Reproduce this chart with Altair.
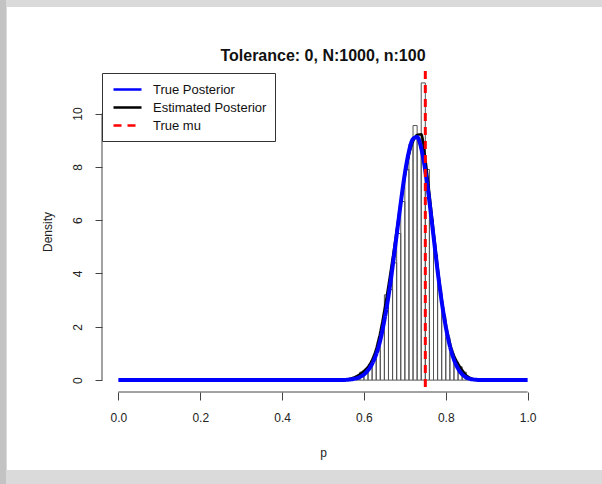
import altair as alt
import pandas as pd

# ---- text ----
title_text = "Tolerance: 0, N:1000, n:100"
x_title = "p"
y_title = "Density"
series_names = ["True Posterior", "Estimated Posterior", "True mu"]
series_colors = ["#0000ff", "#000000", "#ff0000"]

# ---- axis ticks ----
x_ticks = [0.0, 0.2, 0.4, 0.6, 0.8, 1.0]
y_ticks = [0, 2, 4, 6, 8, 10]

# ---- histogram of accepted samples (density scale) ----
hist_left = [0.58, 0.59, 0.60, 0.61, 0.62, 0.63, 0.64, 0.65, 0.66, 0.67,
             0.68, 0.69, 0.70, 0.71, 0.72, 0.73, 0.74, 0.75, 0.76, 0.77,
             0.78, 0.79, 0.80, 0.81, 0.82, 0.83, 0.84, 0.85]
hist_right = [0.59, 0.60, 0.61, 0.62, 0.63, 0.64, 0.65, 0.66, 0.67, 0.68,
              0.69, 0.70, 0.71, 0.72, 0.73, 0.74, 0.75, 0.76, 0.77, 0.78,
              0.79, 0.80, 0.81, 0.82, 0.83, 0.84, 0.85, 0.86]
hist_density = [0.1, 0.3, 0.3, 0.5, 0.8, 1.1, 1.8, 3.2, 3.4, 4.4,
                5.5, 6.7, 7.9, 8.85, 9.55, 9.2, 11.15, 7.9, 6.0, 4.7,
                3.4, 2.4, 1.6, 1.0, 0.65, 0.5, 0.3, 0.1]

# ---- true posterior curve ----
true_p = [0.0, 0.5, 0.55, 0.56, 0.57, 0.58, 0.59, 0.60, 0.61, 0.62, 0.63,
          0.64, 0.65, 0.66, 0.67, 0.68, 0.69, 0.70, 0.71, 0.72, 0.73,
          0.74, 0.75, 0.76, 0.77, 0.78, 0.79, 0.80, 0.81, 0.82, 0.83,
          0.84, 0.85, 0.86, 0.87, 0.88, 0.9, 1.0]
true_density = [0.0, 0.0, 0.006, 0.014, 0.03, 0.06, 0.115, 0.21, 0.37, 0.61, 0.97,
                1.50, 2.25, 3.15, 4.25, 5.45, 6.65, 7.75, 8.58, 9.05, 9.12,
                8.70, 7.85, 6.70, 5.40, 4.10, 2.95, 2.00, 1.28, 0.77, 0.43,
                0.22, 0.10, 0.045, 0.018, 0.006, 0.0, 0.0]

# ---- kernel density estimate of accepted samples ----
est_p = [0.56, 0.57, 0.58, 0.59, 0.60, 0.61, 0.62, 0.63, 0.64, 0.65,
         0.66, 0.67, 0.68, 0.69, 0.70, 0.71, 0.72, 0.73, 0.74, 0.75,
         0.76, 0.77, 0.78, 0.79, 0.80, 0.81, 0.82, 0.83, 0.84, 0.85,
         0.86, 0.87, 0.88]
est_density = [0.03, 0.07, 0.13, 0.22, 0.34, 0.50, 0.76, 1.18, 1.80, 2.62,
               3.55, 4.55, 5.60, 6.65, 7.65, 8.45, 8.95, 9.20, 9.22, 8.30,
               7.00, 5.60, 4.25, 3.05, 2.10, 1.40, 0.92, 0.62, 0.38, 0.18,
               0.08, 0.03, 0.01]

true_mu = 0.75

# ---- frames ----
hist_df = pd.DataFrame({"left": hist_left, "right": hist_right,
                        "density": hist_density, "base": [0.0] * len(hist_left)})
true_df = pd.DataFrame({"p": true_p, "density": true_density,
                        "series": [series_names[0]] * len(true_p)})
est_df = pd.DataFrame({"p": est_p, "density": est_density,
                       "series": [series_names[1]] * len(est_p)})
mu_df = pd.DataFrame({"p": [true_mu], "series": [series_names[2]]})
one_row = pd.DataFrame({"k": [0]})
title_df = pd.DataFrame({"label": [title_text]})

W, H = 442, 321
PAD_L, PAD_T, PAD_R, PAD_B = 102, 71, 58, 92
FONT = "Liberation Sans"

x_scale = alt.Scale(domain=[-0.04, 1.04], nice=False, zero=False)
y_scale = alt.Scale(domain=[-0.446, 11.596], nice=False, zero=False)

x_axis = alt.Axis(values=x_ticks, format=".1f", domain=False, grid=False,
                  tickSize=8, tickColor="#444444", tickWidth=1,
                  labelFont=FONT, labelFontSize=12, labelColor="#222222",
                  labelPadding=12, labelFlush=False,
                  title=x_title, titleFont=FONT, titleFontSize=12,
                  titleFontWeight="normal", titleColor="#222222",
                  titlePadding=24, zindex=1)
y_axis = alt.Axis(values=y_ticks, format="d", domain=False, grid=False,
                  tickSize=7, tickColor="#444444", tickWidth=1,
                  labelFont=FONT, labelFontSize=12, labelColor="#222222",
                  labelAngle=270, labelAlign="center", labelBaseline="bottom",
                  labelPadding=11, labelFlush=False,
                  title=y_title, titleFont=FONT, titleFontSize=12,
                  titleFontWeight="normal", titleColor="#222222",
                  titlePadding=17, zindex=1)

# legend: a short horizontal stroke as the key, boxed in the top-left corner
legend = alt.Legend(title=None, orient="none", legendX=0, legendY=2,
                    symbolType="M-2,0H2", symbolSize=196, symbolStrokeWidth=2.5,
                    symbolOffset=9,
                    labelFont=FONT, labelFontSize=13, labelColor="#111111",
                    labelOffset=17, padding=8, rowPadding=2, labelLimit=300,
                    strokeColor="#333333", fillColor="white")

color_scale = alt.Scale(domain=series_names, range=series_colors)
dash_scale = alt.Scale(domain=series_names, range=[[1, 0], [1, 0], [8, 6]])

# page frame: white sheet on a grey surround
surround = alt.Chart(one_row).mark_rect(color="white").encode(
    x=alt.value(7 - PAD_L), x2=alt.value(602 - PAD_L),
    y=alt.value(7 - PAD_T), y2=alt.value(470 - PAD_T))
left_edge = alt.Chart(one_row).mark_rect(color="#c3c3c3").encode(
    x=alt.value(-PAD_L), x2=alt.value(6 - PAD_L),
    y=alt.value(-PAD_T), y2=alt.value(484 - PAD_T))

# main title, centred over the plotting region
title_mark = alt.Chart(title_df).mark_text(
    font=FONT, fontSize=16, fontWeight="bold", color="#111111",
    align="center", baseline="alphabetic").encode(
    text="label:N", x=alt.value(W / 2), y=alt.value(-10))

hist = alt.Chart(hist_df).mark_rect(fill="transparent", stroke="#555555",
                                    strokeWidth=1).encode(
    x=alt.X("left:Q", scale=x_scale, axis=x_axis),
    x2="right:Q",
    y=alt.Y("base:Q", scale=y_scale, axis=y_axis),
    y2="density:Q")

# axis lines spanning first to last tick
x_line = alt.Chart(one_row).mark_rule(color="#444444", strokeWidth=1).encode(
    x=alt.X(datum=x_ticks[0], scale=x_scale, axis=x_axis),
    x2=alt.X2(datum=x_ticks[-1]),
    y=alt.value(H))
y_line = alt.Chart(one_row).mark_rule(color="#444444", strokeWidth=1).encode(
    y=alt.Y(datum=y_ticks[0], scale=y_scale, axis=y_axis),
    y2=alt.Y2(datum=y_ticks[-1]),
    x=alt.value(0))

def curve(df, width):
    return alt.Chart(df).mark_line(strokeWidth=width, interpolate="monotone",
                                   clip=False).encode(
        x=alt.X("p:Q", scale=x_scale, axis=x_axis),
        y=alt.Y("density:Q", scale=y_scale, axis=y_axis),
        color=alt.Color("series:N", scale=color_scale, legend=legend),
        strokeDash=alt.StrokeDash("series:N", scale=dash_scale, legend=legend),
        order=alt.Order("p:Q"))

est_line = curve(est_df, 2.5)
true_line = curve(true_df, 4)

mu_rule = alt.Chart(mu_df).mark_rule(strokeWidth=3).encode(
    x=alt.X("p:Q", scale=x_scale, axis=x_axis),
    color=alt.Color("series:N", scale=color_scale, legend=legend),
    strokeDash=alt.StrokeDash("series:N", scale=dash_scale, legend=legend))

chart = alt.layer(
    surround, left_edge, title_mark, hist, x_line, y_line,
    est_line, true_line, mu_rule
).properties(
    width=W, height=H,
    autosize=alt.AutoSizeParams(type="none"),
    padding={"left": PAD_L, "top": PAD_T, "right": PAD_R, "bottom": PAD_B},
    background="#dadada"
).configure_view(strokeWidth=0)

chart.save("out.html", embed_options={"renderer": "svg", "actions": False})
